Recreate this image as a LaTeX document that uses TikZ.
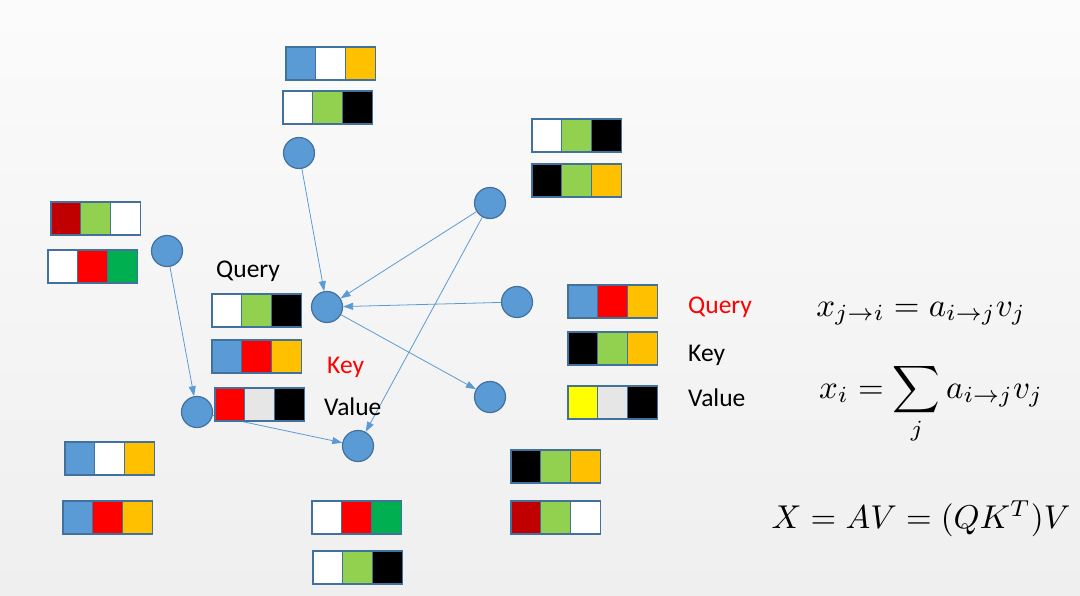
\documentclass[tikz,border=0pt]{standalone}
\usepackage{graphicx}
\usepackage{fontspec}
\setmainfont{Carlito}
\usetikzlibrary{arrows.meta}
\definecolor{nodeblue}{HTML}{5B9BD5}
\definecolor{edgeblue}{HTML}{41719C}
\definecolor{cgreen}{HTML}{92D050}
\definecolor{corange}{HTML}{FFC000}
\definecolor{cdred}{HTML}{C00000}
\definecolor{cred}{HTML}{FF0000}
\definecolor{cdgreen}{HTML}{00B050}
\definecolor{clgrey}{HTML}{E7E6E6}
\definecolor{cyellow}{HTML}{FFFF00}
\definecolor{bgtop}{HTML}{FBFBFB}
\definecolor{bgbot}{HTML}{EFEFEF}
\tikzset{
 cell/.style={draw=edgeblue, line width=1.2pt, minimum width=29.7pt, minimum height=33pt, inner sep=0pt, outer sep=0pt, anchor=north west},
 vert/.style={circle, fill=nodeblue, draw=edgeblue, line width=1.2pt, minimum size=31pt, inner sep=0pt},
 link/.style={draw=nodeblue, line width=0.8pt, -{Triangle[length=10pt,width=7pt]}},
 lbl/.style={font=\fontsize{25.5}{30}\selectfont, anchor=base west, inner sep=0pt},
 eq/.style={anchor=base, inner sep=0pt}
}
\newcommand{\cellrow}[6]{%
 \node[cell, fill=#4] (#1a) at (#2,#3) {};
 \node[cell, fill=#5] (#1b) at (#2+29.7,#3) {};
 \node[cell, fill=#6] (#1c) at (#2+59.4,#3) {};
}
\begin{document}
\begin{tikzpicture}[x=1pt,y=-1pt]
\useasboundingbox (0,0) rectangle (1080,595);
\shade[top color=bgtop, bottom color=bgbot] (0,0) rectangle (1080,595);
% graph nodes
\node[vert] (top) at (299,153) {};
\node[vert] (ur) at (490,203) {};
\node[vert] (lft) at (167,251) {};
\node[vert] (ctr) at (327,307) {};
\node[vert] (rt) at (517,302) {};
\node[vert] (lr) at (490,397) {};
\node[vert] (ll) at (197,412) {};
\node[vert] (bot) at (358,446) {};
% connectors
\draw[link] (top) -- (ctr);
\draw[link] (ur) -- (ctr);
\draw[link] (ur) -- (bot);
\draw[link] (rt) -- (ctr);
\draw[link] (ctr) -- (lr);
\draw[link] (lft) -- (ll);
\draw[link] (ll) -- (bot);
% vectors
\cellrow{ta}{286}{47}{nodeblue}{white}{corange}
\cellrow{tb}{283}{91}{white}{cgreen}{black}
\cellrow{ua}{532}{119}{white}{cgreen}{black}
\cellrow{ub}{532}{164}{black}{cgreen}{corange}
\cellrow{la}{51}{202}{cdred}{cgreen}{white}
\cellrow{lb}{48}{250}{white}{cred}{cdgreen}
\cellrow{qa}{212}{294}{white}{cgreen}{black}
\cellrow{qb}{212}{340}{nodeblue}{cred}{corange}
\cellrow{qc}{215}{388}{cred}{clgrey}{black}
\cellrow{ra}{568}{285}{nodeblue}{cred}{corange}
\cellrow{rb}{568}{332}{black}{cgreen}{corange}
\cellrow{rc}{568}{386}{cyellow}{clgrey}{black}
\cellrow{ba}{65}{442}{nodeblue}{white}{corange}
\cellrow{bb}{63}{501}{nodeblue}{cred}{corange}
\cellrow{bc}{312}{501}{white}{cred}{cdgreen}
\cellrow{bd}{313}{551}{white}{cgreen}{black}
\cellrow{be}{511}{450}{black}{cgreen}{corange}
\cellrow{bf}{511}{501}{cdred}{cgreen}{white}
% labels
\node[lbl] (q1) at (216,277) {Query};
\node[lbl, text=cred] (k1) at (327,373) {Key};
\node[lbl] (v1) at (324,415) {Value};
\node[lbl, text=cred] (q2) at (688,313) {Query};
\node[lbl] (k2) at (688,361) {Key};
\node[lbl] (v2) at (688,406) {Value};
% formulas
\node[eq] (f1) at (921,316) {\scalebox{3.3}{$x_{j\to i} = a_{i\to j}v_j$}};
\node[eq] (f2) at (931,398) {\scalebox{3.3}{$x_i = \displaystyle\sum_j a_{i\to j}v_j$}};
\node[eq] (f3) at (921,528) {\scalebox{3.3}{$X = AV = (QK^T)V$}};
\end{tikzpicture}
\end{document}
